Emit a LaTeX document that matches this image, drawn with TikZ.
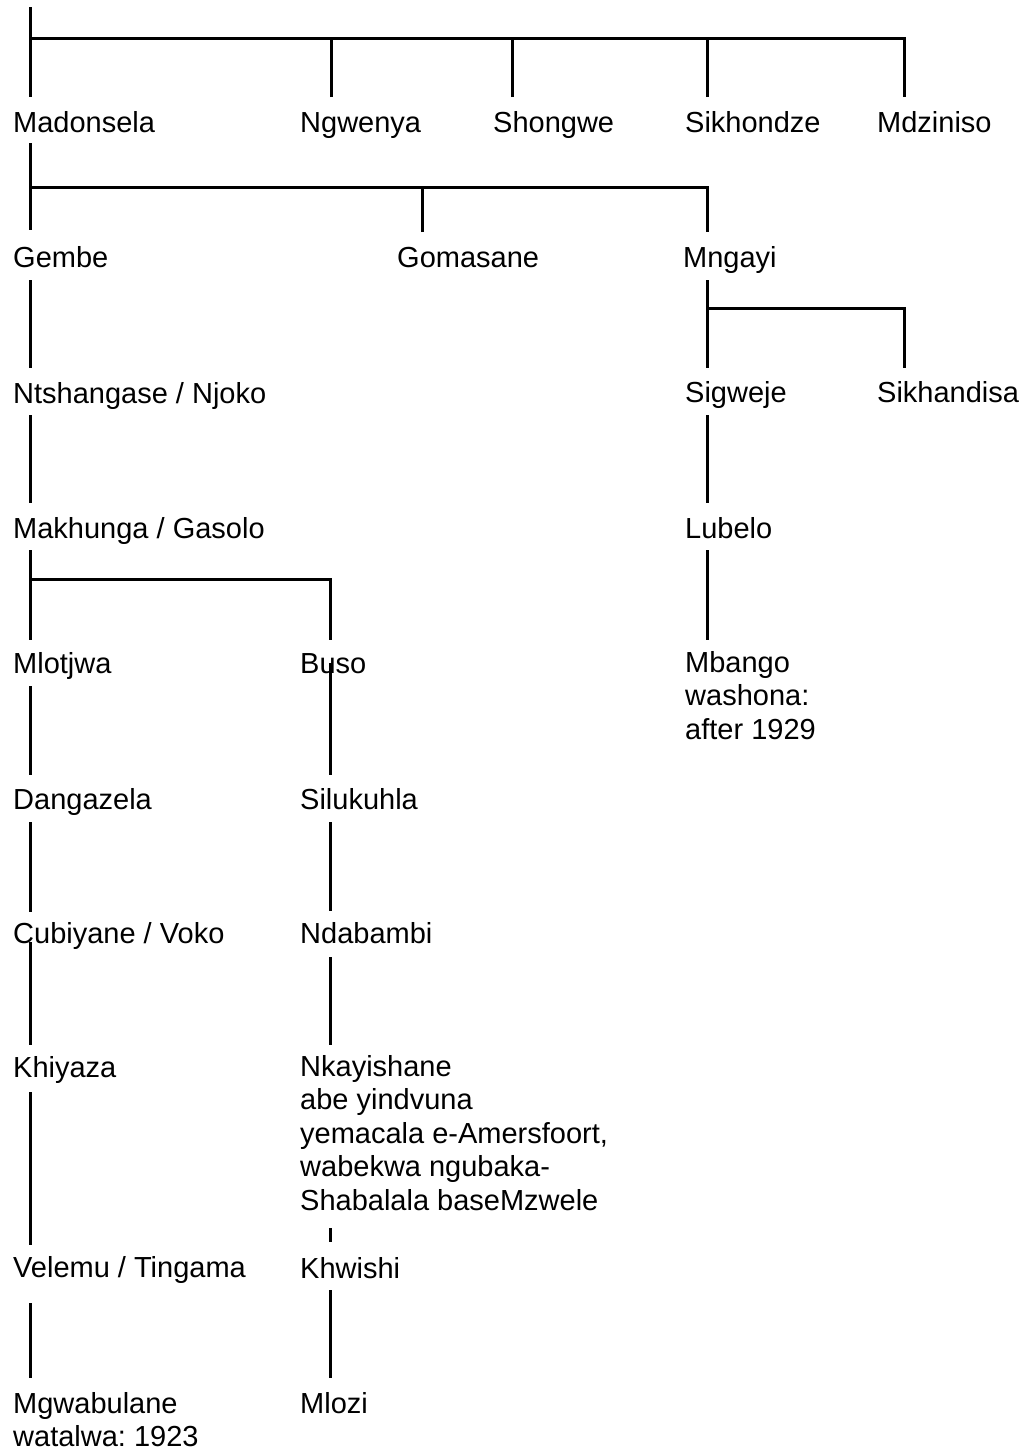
\documentclass[tikz,border=0pt]{standalone}
\usepackage{fontspec}
\setmainfont{Liberation Sans}
\usetikzlibrary{calc}
\frenchspacing
\begin{document}
\begin{tikzpicture}[x=1pt,y=-1pt,
  person/.style={anchor=base west,inner sep=0pt,font=\fontsize{29}{33.5}\selectfont\frenchspacing},
  link/.style={line width=3pt,black}]
\useasboundingbox[fill=white] (0,0) rectangle (1022,1452);
% nodes
\node[person] (madonsela) at (13,132) {Madonsela};
\node[person] (ngwenya) at (300,132) {Ngwenya};
\node[person] (shongwe) at (493,132) {Shongwe};
\node[person] (sikhondze) at (685,132) {Sikhondze};
\node[person] (mdziniso) at (877,132) {Mdziniso};
\node[person] (gembe) at (13,267) {Gembe};
\node[person] (gomasane) at (397,267) {Gomasane};
\node[person] (mngayi) at (683,267) {Mngayi};
\node[person] (ntshangase) at (13,403) {Ntshangase / Njoko};
\node[person] (sigweje) at (685,402) {Sigweje};
\node[person] (sikhandisa) at (877,402) {Sikhandisa};
\node[person] (makhunga) at (13,538) {Makhunga / Gasolo};
\node[person] (lubelo) at (685,538) {Lubelo};
\node[person] (mlotjwa) at (13,673) {Mlotjwa};
\node[person] (buso) at (300,673) {Buso};
\node[person] (mbango) at (685,672) {\begin{tabular}[t]{@{}l@{}}Mbango\\washona:\\after 1929\end{tabular}};
\node[person] (dangazela) at (13,809) {Dangazela};
\node[person] (silukuhla) at (300,809) {Silukuhla};
\node[person] (cubiyane) at (13,943) {Cubiyane / Voko};
\node[person] (ndabambi) at (300,943) {Ndabambi};
\node[person] (khiyaza) at (13,1077) {Khiyaza};
\node[person] (nkayishane) at (300,1076) {\begin{tabular}[t]{@{}l@{}}Nkayishane\\abe yindvuna\\yemacala e-Amersfoort,\\wabekwa ngubaka-\\Shabalala baseMzwele\end{tabular}};
\node[person] (velemu) at (13,1277) {Velemu / Tingama};
\node[person] (khwishi) at (300,1278) {Khwishi};
\node[person] (mgwabulane) at (13,1413) {\begin{tabular}[t]{@{}l@{}}Mgwabulane\\watalwa: 1923\end{tabular}};
\node[person] (mlozi) at (300,1413) {Mlozi};
% top level
\coordinate (root) at (30,7);
\coordinate (b1) at (30,38);
\draw[link] (root) -- ($(madonsela.base west)+(17,-35)$);
\draw[link] (b1) -| ($(mdziniso.base west)+(27,-35)$);
\draw[link] ($(ngwenya.base west)+(31,-35)$) coordinate (t1) -- (t1 |- b1);
\draw[link] ($(shongwe.base west)+(19,-35)$) coordinate (t2) -- (t2 |- b1);
\draw[link] ($(sikhondze.base west)+(22,-35)$) coordinate (t3) -- (t3 |- b1);
% Madonsela
\draw[link] ($(madonsela.base west)+(17,11)$) -- ($(gembe.base west)+(17,-37)$);
\coordinate (b2) at (30,187);
\draw[link] (b2) -| ($(mngayi.base west)+(24,-35)$);
\draw[link] ($(gomasane.base west)+(25,-35)$) coordinate (t4) -- (t4 |- b2);
% Mngayi
\draw[link] ($(mngayi.base west)+(24,13)$) -- ($(sigweje.base west)+(22,-34)$);
\draw[link] ($(mngayi.base west)+(24,41)$) -| ($(sikhandisa.base west)+(27,-34)$);
\draw[link] ($(sigweje.base west)+(22,13)$) -- ($(lubelo.base west)+(22,-35)$);
\draw[link] ($(lubelo.base west)+(22,12)$) -- ($(mbango.base west)+(22,-32)$);
% left column
\draw[link] ($(gembe.base west)+(17,13)$) -- ($(ntshangase.base west)+(17,-35)$);
\draw[link] ($(ntshangase.base west)+(17,12)$) -- ($(makhunga.base west)+(17,-35)$);
\draw[link] ($(makhunga.base west)+(17,12)$) -- ($(mlotjwa.base west)+(17,-33)$);
\draw[link] ($(makhunga.base west)+(17,41)$) -| ($(buso.base west)+(30,-33)$);
\draw[link] ($(mlotjwa.base west)+(17,13)$) -- ($(dangazela.base west)+(17,-34)$);
\draw[link] ($(dangazela.base west)+(17,13)$) -- ($(cubiyane.base west)+(17,-31)$);
\draw[link] ($(cubiyane.base west)+(17,-1)$) -- ($(khiyaza.base west)+(17,-32)$);
\draw[link] ($(khiyaza.base west)+(17,15)$) -- ($(velemu.base west)+(17,-32)$);
\draw[link] ($(velemu.base west)+(17,26)$) -- ($(mgwabulane.base west)+(17,-35)$);
% Buso column
\draw[link] ($(buso.base west)+(30,-10)$) -- ($(silukuhla.base west)+(30,-34)$);
\draw[link] ($(silukuhla.base west)+(30,13)$) -- ($(ndabambi.base west)+(30,-32)$);
\draw[link] ($(ndabambi.base west)+(30,14)$) -- ($(nkayishane.base west)+(30,-31)$);
\draw[link] ($(nkayishane.base west)+(30,152)$) -- ($(khwishi.base west)+(30,-36)$);
\draw[link] ($(khwishi.base west)+(30,12)$) -- ($(mlozi.base west)+(30,-35)$);
\end{tikzpicture}
\end{document}
